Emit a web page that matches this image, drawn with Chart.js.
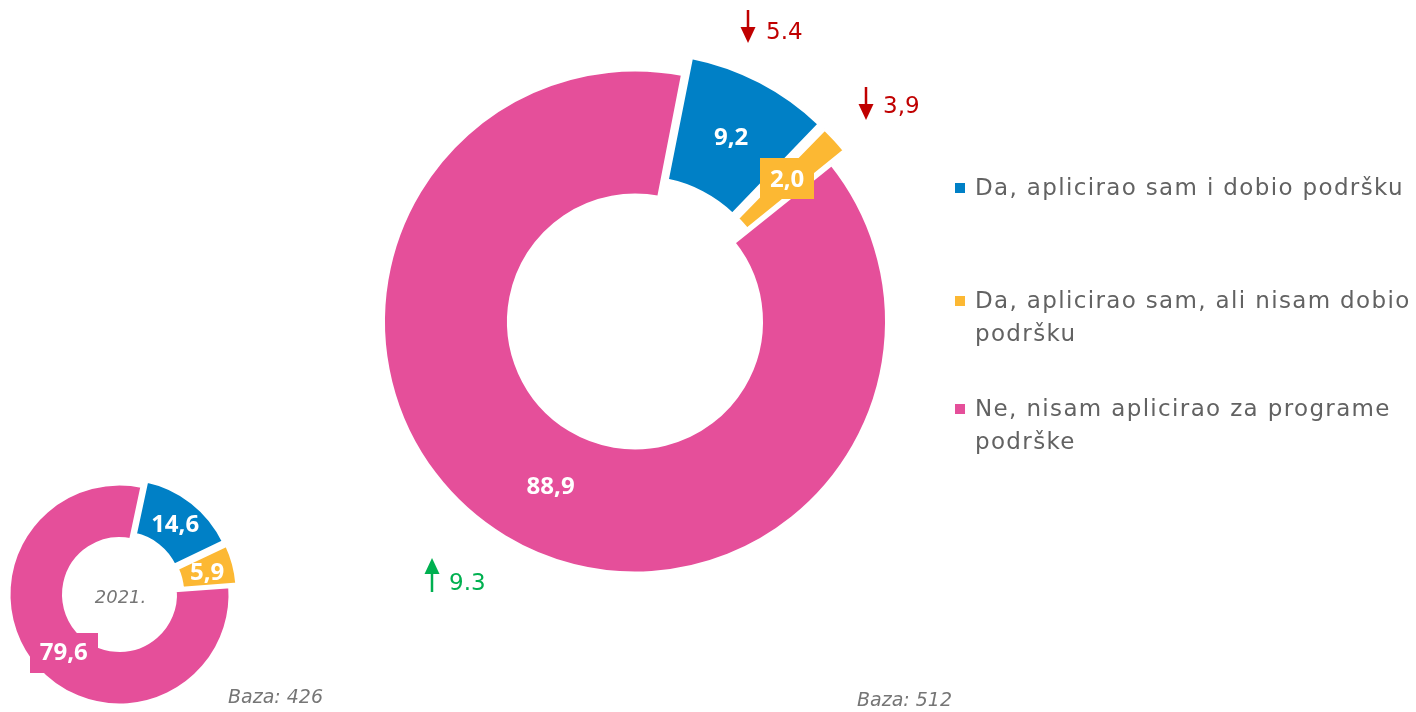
<!DOCTYPE html>
<html>
<head>
<meta charset="utf-8">
<script src="https://cdn.jsdelivr.net/npm/chart.js@4/dist/chart.umd.min.js"></script>
<style>
html,body{margin:0;padding:0;background:#fff;width:1416px;height:712px;overflow:hidden;font-family:"DejaVu Sans",sans-serif;}
.layer{position:absolute;left:0;top:0;width:1416px;height:712px;}
#legend{position:absolute;left:0;top:0;}
.item{position:absolute;left:955px;width:461px;}
.sw{position:absolute;left:0;width:10px;height:10px;}
.tx{position:absolute;left:20px;width:441px;font-size:23px;letter-spacing:1.35px;line-height:33px;color:#626262;white-space:normal;}
</style>
</head>
<body>
<div class="layer"><canvas id="big" width="1416" height="712"></canvas></div>
<div class="layer"><canvas id="small" width="1416" height="712"></canvas></div>
<div id="legend"></div>
<script>
// ---- data ----
const categories = [
  'Da, aplicirao sam i dobio podršku',
  'Da, aplicirao sam, ali nisam dobio podršku',
  'Ne, nisam aplicirao za programe podrške'
];
const values2023 = [9.2, 2.0, 88.9];
const values2021 = [14.6, 5.9, 79.6];
const changeLabels = ['5.4', '3,9', '9.3'];
const changeDirections = ['down', 'down', 'up'];
const baseLabel2023 = 'Baza: 512';
const baseLabel2021 = 'Baza: 426';
const yearLabel2021 = '2021.';

// ---- styles ----
const colors = ['#0080C6', '#FCB833', '#E54F9A'];
const FONT = '"DejaVu Sans", sans-serif';
const LABEL_FONT = '"Open Sans", sans-serif';

function fmt(v){ return v.toFixed(1).replace('.', ','); }

const sliceLabels = {
  id: 'sliceLabels',
  afterDatasetsDraw(chart, args, opts) {
    const ctx = chart.ctx;
    const meta = chart.getDatasetMeta(0);
    const ds = chart.data.datasets[0];
    ctx.save();
    ctx.font = opts.font;
    ctx.textAlign = 'center';
    ctx.textBaseline = 'middle';
    meta.data.forEach((arc, i) => {
      const p = arc.getProps(['x','y','startAngle','endAngle','innerRadius','outerRadius'], true);
      const off = (arc.options.offset || 0) / 4;
      const circ = p.endAngle - p.startAngle;
      const fix = 1 - Math.sin(Math.min(Math.PI, circ));
      const shift = off * (1 + fix);
      const a = (p.startAngle + p.endAngle) / 2 + (opts.angleNudge ? opts.angleNudge[i] : 0) * Math.PI / 180;
      const r = (p.innerRadius + p.outerRadius) / 2 + shift + (opts.radiusNudge ? opts.radiusNudge[i] : 0);
      const x = p.x + Math.cos(a) * r + (opts.dx ? opts.dx[i] : 0);
      const y = p.y + Math.sin(a) * r + (opts.dy ? opts.dy[i] : 0);
      const text = fmt(ds.data[i]);
      if (opts.boxed[i]) {
        const w = ctx.measureText(text).width + opts.padX * 2;
        const h = opts.boxH;
        ctx.fillStyle = ds.backgroundColor[i];
        ctx.fillRect(Math.round(x - w / 2), Math.round(y - h / 2), Math.round(w), h);
      }
      ctx.fillStyle = '#fff';
      ctx.fillText(text, x, y + 1);
    });
    ctx.restore();
  }
};

function drawArrow(ctx, x, yTop, yBot, dir, color) {
  ctx.save();
  ctx.fillStyle = color;
  ctx.strokeStyle = color;
  ctx.lineWidth = 2.5;
  const hw = 7.5, hh = 16;
  ctx.beginPath();
  if (dir === 'down') {
    ctx.moveTo(x, yTop); ctx.lineTo(x, yBot - hh + 2); ctx.stroke();
    ctx.beginPath();
    ctx.moveTo(x - hw, yBot - hh); ctx.lineTo(x + hw, yBot - hh); ctx.lineTo(x, yBot); ctx.closePath(); ctx.fill();
  } else {
    ctx.moveTo(x, yBot); ctx.lineTo(x, yTop + hh - 2); ctx.stroke();
    ctx.beginPath();
    ctx.moveTo(x - hw, yTop + hh); ctx.lineTo(x + hw, yTop + hh); ctx.lineTo(x, yTop); ctx.closePath(); ctx.fill();
  }
  ctx.restore();
}

const bigNotes = {
  id: 'bigNotes',
  afterDraw(chart) {
    const ctx = chart.ctx;
    const spots = [
      {ax: 748, top: 10, bot: 43, tx: 766, ty: 33},
      {ax: 866, top: 87, bot: 120, tx: 883, ty: 107},
      {ax: 432, top: 558, bot: 592, tx: 449, ty: 584}
    ];
    ctx.save();
    changeLabels.forEach((t, i) => {
      const s = spots[i];
      const col = changeDirections[i] === 'down' ? '#C00000' : '#00B050';
      drawArrow(ctx, s.ax, s.top, s.bot, changeDirections[i], col);
      ctx.fillStyle = col;
      ctx.font = '23px ' + FONT;
      ctx.textAlign = 'left';
      ctx.textBaseline = 'middle';
      ctx.fillText(t, s.tx, s.ty);
    });
    ctx.fillStyle = '#767676';
    ctx.font = 'italic 19px ' + FONT;
    ctx.textAlign = 'left';
    ctx.textBaseline = 'middle';
    ctx.fillText(baseLabel2023, 857, 701);
    ctx.fillText(baseLabel2021, 228, 698);
    ctx.restore();
  }
};

const smallNotes = {
  id: 'smallNotes',
  afterDraw(chart) {
    const ctx = chart.ctx;
    const meta = chart.getDatasetMeta(0);
    const arc = meta.data[0];
    ctx.save();
    ctx.fillStyle = '#767676';
    ctx.font = 'italic 18px ' + FONT;
    ctx.textAlign = 'center';
    ctx.textBaseline = 'middle';
    ctx.fillText(yearLabel2021, arc.x + 1, arc.y + 4);
    ctx.restore();
  }
};

new Chart(document.getElementById('big'), {
  type: 'doughnut',
  data: {
    labels: categories,
    datasets: [{
      data: values2023,
      backgroundColor: colors,
      borderColor: '#ffffff',
      borderWidth: 4,
      offset: [52, 40, 0],
      hoverOffset: 0
    }]
  },
  options: {
    responsive: false,
    animation: false,
    rotation: 11,
    cutout: '50%',
    radius: 252,
    layout: {padding: {left: 0, right: 146, top: 0, bottom: 69}},
    events: [],
    plugins: {
      legend: {display: false},
      tooltip: {enabled: false},
      sliceLabels: {font: 'bold 24px ' + LABEL_FONT, boxed: [false, true, false], padX: 10, boxH: 41,
                    angleNudge: [0, 0, -4], radiusNudge: [0, -2, -4], dx: [0, 0, 0], dy: [0, -4, 0]}
    }
  },
  plugins: [sliceLabels, bigNotes]
});

new Chart(document.getElementById('small'), {
  type: 'doughnut',
  data: {
    labels: categories,
    datasets: [{
      data: values2021,
      backgroundColor: colors,
      borderColor: '#ffffff',
      borderWidth: 4,
      offset: [22, 18, 0],
      hoverOffset: 0
    }]
  },
  options: {
    responsive: false,
    animation: false,
    rotation: 12,
    cutout: '50%',
    radius: 111,
    layout: {padding: {left: 0, right: 1177, top: 477, bottom: 0}},
    events: [],
    plugins: {
      legend: {display: false},
      tooltip: {enabled: false},
      sliceLabels: {font: 'bold 24px ' + LABEL_FONT, boxed: [false, false, true], padX: 10, boxH: 40,
                    angleNudge: [0, 0, -5], radiusNudge: [0, 0, 0], dx: [0, 0, 2], dy: [0, 1, -2]}
    }
  },
  plugins: [sliceLabels, smallNotes]
});

// ---- HTML legend ----
const legendTops = [171, 284, 392];
const legendEl = document.getElementById('legend');
categories.forEach((c, i) => {
  const item = document.createElement('div');
  item.className = 'item';
  item.style.top = legendTops[i] + 'px';
  const sw = document.createElement('span');
  sw.className = 'sw';
  sw.style.background = colors[i];
  sw.style.top = '12px';
  const tx = document.createElement('span');
  tx.className = 'tx';
  tx.textContent = c;
  item.appendChild(sw);
  item.appendChild(tx);
  legendEl.appendChild(item);
});
</script>
</body>
</html>
